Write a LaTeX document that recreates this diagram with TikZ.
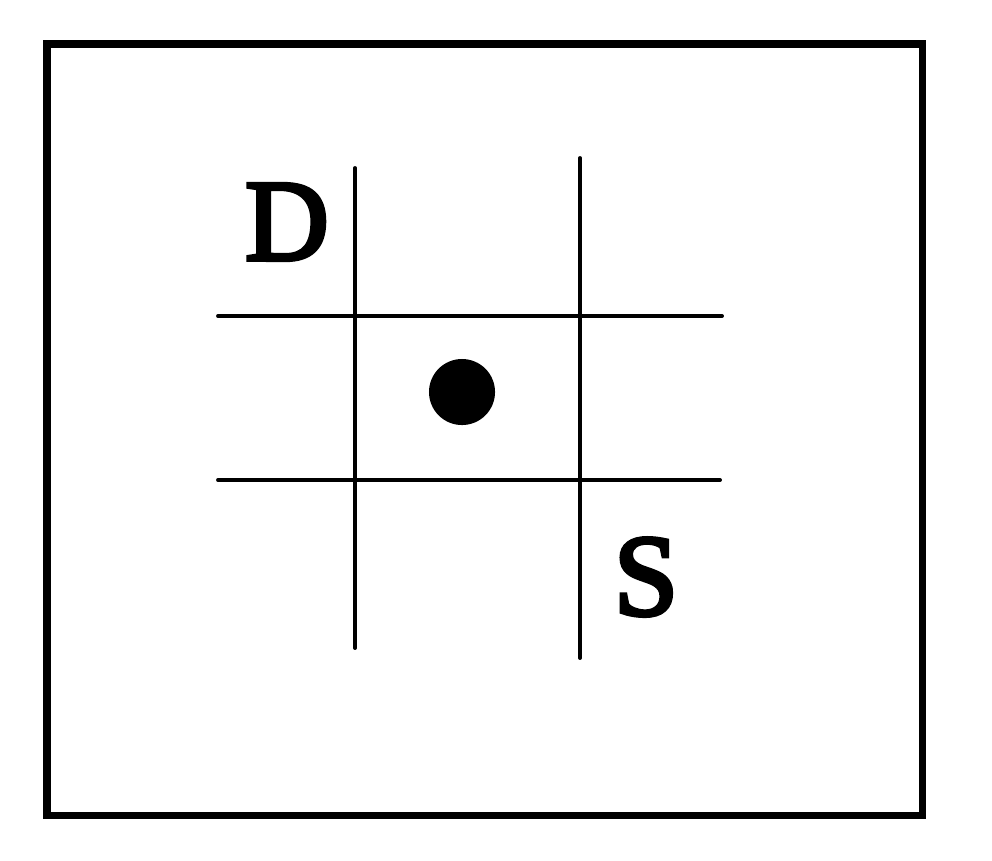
\documentclass[tikz,border=0pt]{standalone}
\usepackage{fontspec}
\setmainfont{Liberation Serif}
\newfontfamily\labelfont[FakeBold=3.5]{Liberation Serif}
\usetikzlibrary{positioning}

\begin{document}
\begin{tikzpicture}[
    x=0.01cm, y=-0.01cm,
    frame/.style={draw, line width=2pt},
    gridline/.style={line width=1.1pt, line cap=round},
    spot/.style={circle, fill, inner sep=0pt, minimum size=0.66cm},
    letter/.style={font=\labelfont\fontsize{33}{36}\selectfont, inner sep=0pt},
]
\useasboundingbox (0,0) rectangle (992,860);

% ── outer frame ──────────────────────────────────────────────────────────────
\draw[frame] (47,44) rectangle (922,815);

% ── grid end points ──────────────────────────────────────────────────────────
\coordinate (v1top) at (355,168);
\coordinate (v1bot) at (355,648);
\coordinate (v2top) at (580,158);
\coordinate (v2bot) at (580,658);
\coordinate (h1lft) at (218,316);
\coordinate (h1rgt) at (722,316);
\coordinate (h2lft) at (218,480);
\coordinate (h2rgt) at (720,480);

% ── grid lines ───────────────────────────────────────────────────────────────
\draw[gridline] (v1top) -- (v1bot);
\draw[gridline] (v2top) -- (v2bot);
\draw[gridline] (h1lft) -- (h1rgt);
\draw[gridline] (h2lft) -- (h2rgt);

% ── centre spot and labels ───────────────────────────────────────────────────
\node[spot] (dot) at (462,392) {};
\node[letter] (dlabel) at (287,222) {D};
\node[letter] (slabel) at (646,577) {S};

\end{tikzpicture}
\end{document}
